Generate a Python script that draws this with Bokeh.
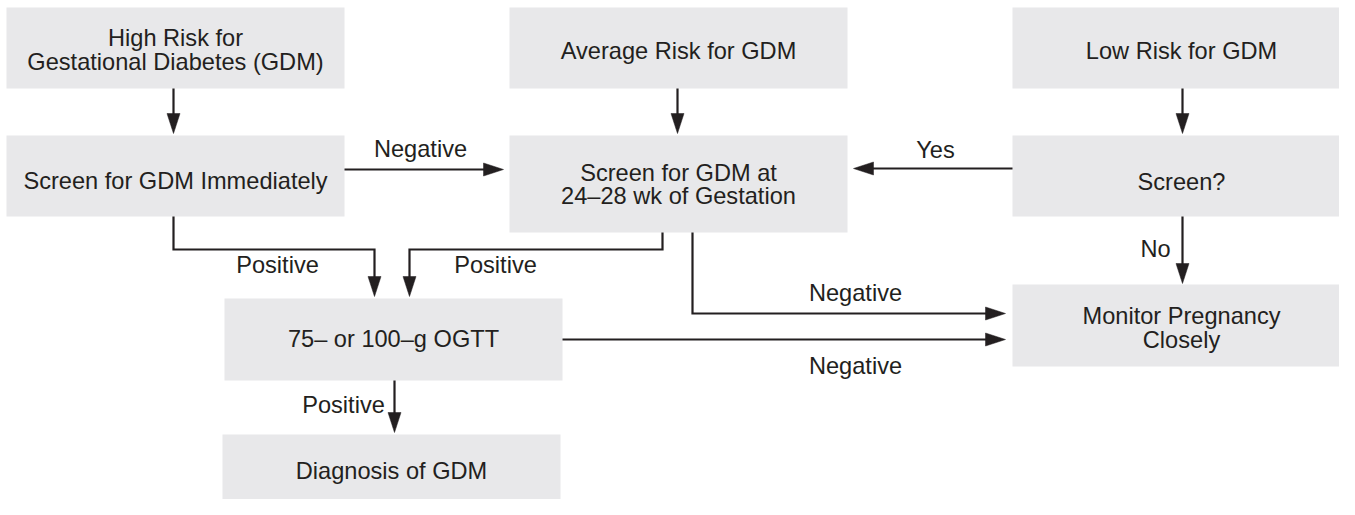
from bokeh.plotting import figure
from bokeh.models import Range1d
from bokeh.core.properties import value
from bokeh.embed import file_html
from bokeh.resources import INLINE

# ---------------- data ----------------
node_labels = [
    "High Risk for\nGestational Diabetes (GDM)",
    "Screen for GDM Immediately",
    "Average Risk for GDM",
    "Screen for GDM at\n24–28 wk of Gestation",
    "Low Risk for GDM",
    "Screen?",
    "75– or 100–g OGTT",
    "Monitor Pregnancy\nClosely",
    "Diagnosis of GDM",
]
edge_from = [0, 2, 4, 1, 5, 1, 3, 3, 6, 5, 6]
edge_to = [1, 3, 5, 3, 3, 6, 6, 7, 7, 7, 8]
edge_labels = ["", "", "", "Negative", "Yes", "Positive", "Positive",
               "Negative", "Negative", "No", "Positive"]

# ---------------- layout (pixel coordinates, y downwards) ----------------
box_x0 = [6, 6, 509, 509, 1012, 1012, 224, 1012, 222]
box_x1 = [344, 344, 847, 847, 1350, 1350, 562, 1350, 560]
box_y0 = [7, 135, 7, 135, 7, 135, 298, 284, 434]
box_y1 = [88, 216, 88, 232, 88, 216, 380, 366, 514]
text_cy = [49.5, 180, 50.5, 184, 50, 181, 338, 327.5, 470]
LINE_GAP = 23.5

edge_paths = [
    [(173, 88), (173, 133)],
    [(677, 88), (677, 133)],
    [(1182, 88), (1182, 133)],
    [(344, 169), (503, 169)],
    [(1012, 168), (853, 168)],
    [(173, 216), (173, 249), (374, 249), (374, 296)],
    [(662, 232), (662, 249), (409, 249), (409, 296)],
    [(692, 232), (692, 313), (1005, 313)],
    [(562, 339), (1005, 339)],
    [(1182, 216), (1182, 283)],
    [(394, 380), (394, 432)],
]
label_pos = [None, None, None, (420, 148), (935, 149), (277, 264), (495, 264),
             (855, 292), (855, 365), (1155, 248), (343, 404)]

INK = "#231f20"
FILL = "#e8e8ea"
FONT = "Liberation Sans"
FSIZE = "23.6px"
HEAD_L = 20
HEAD_W = 6.5

p = figure(width=1339, height=499, output_backend="svg", toolbar_location=None,
           x_range=Range1d(0, 1339), y_range=Range1d(499, 0), min_border=0)
p.axis.visible = False
p.grid.visible = False
p.outline_line_color = None
p.background_fill_color = "white"
p.border_fill_color = "white"

# boxes
p.quad(left=box_x0, right=box_x1, top=box_y0, bottom=box_y1,
       fill_color=FILL, line_color=None)

# node texts
tx, ty, tt = [], [], []
for i, lab in enumerate(node_labels):
    lines = lab.split("\n")
    cx = (box_x0[i] + box_x1[i]) / 2
    n = len(lines)
    for k, ln in enumerate(lines):
        tx.append(cx)
        ty.append(text_cy[i] + (k - (n - 1) / 2) * LINE_GAP)
        tt.append(ln)
p.text(x=tx, y=ty, text=tt, text_align="center", text_baseline="middle",
       text_font=value(FONT), text_font_size=FSIZE, text_color=INK)

# connectors and arrowheads
xs, ys, hx, hy = [], [], [], []
for path in edge_paths:
    (ax, ay), (bx, by) = path[-2], path[-1]
    dx, dy = bx - ax, by - ay
    L = (dx * dx + dy * dy) ** 0.5
    ux, uy = dx / L, dy / L
    basex, basey = bx - ux * HEAD_L, by - uy * HEAD_L
    pts = path[:-1] + [(basex + ux * 2, basey + uy * 2)]
    xs.append([q[0] for q in pts])
    ys.append([q[1] for q in pts])
    nx, ny = -uy, ux
    hx.append([bx, basex + nx * HEAD_W, basex - nx * HEAD_W])
    hy.append([by, basey + ny * HEAD_W, basey - ny * HEAD_W])
p.multi_line(xs=xs, ys=ys, line_color=INK, line_width=2.2, line_join="miter")
p.patches(xs=hx, ys=hy, fill_color=INK, line_color=INK, line_width=0.5)

# edge labels
lx, ly, lt = [], [], []
for lab, pos in zip(edge_labels, label_pos):
    if lab and pos:
        lx.append(pos[0]); ly.append(pos[1]); lt.append(lab)
p.text(x=lx, y=ly, text=lt, text_align="center", text_baseline="middle",
       text_font=value(FONT), text_font_size=FSIZE, text_color=INK)

open("out.html", "w").write(file_html(p, INLINE))
